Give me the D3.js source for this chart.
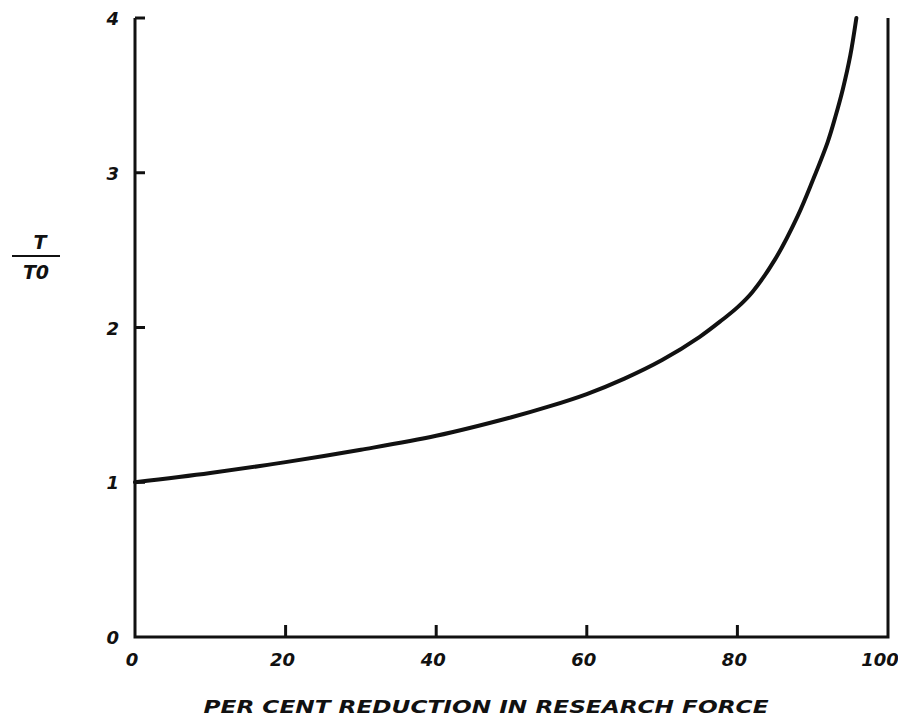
<!DOCTYPE html>
<head>
<meta charset="utf-8">
<script src="https://d3js.org/d3.v7.min.js"></script>
</head>
<style>
  body { margin: 0; background: #fff; }
  text { font-family: "DejaVu Sans", sans-serif; font-style: italic; font-weight: bold; fill: #111; }
</style>
<body>
<svg id="chart" width="898" height="724"></svg>
<script>
// values
const reduction = [0, 10, 20, 30, 40, 50, 55, 60, 65, 70, 75, 78, 80, 82, 85, 88, 90, 92, 93, 94, 95, 95.8];
const ratio     = [1.0, 1.06, 1.13, 1.21, 1.30, 1.42, 1.49, 1.57, 1.67, 1.79, 1.94, 2.05, 2.13, 2.23, 2.44, 2.72, 2.95, 3.20, 3.36, 3.54, 3.76, 4.0];
const xTicks = [0, 20, 40, 60, 80, 100];
const yTicks = [0, 1, 2, 3, 4];
const xLabel = "PER CENT  REDUCTION IN RESEARCH FORCE";

const svg = d3.select("#chart");

const x = d3.scaleLinear().domain([0, 100]).range([135, 888]);
const y = d3.scaleLinear().domain([0, 4]).range([637, 18]);

// frame: left, bottom, right
svg.append("path")
  .attr("d", `M${x(0)},${y(4)}V${y(0)}H${x(100)}V${y(4)}`)
  .attr("fill", "none")
  .attr("stroke", "#111")
  .attr("stroke-width", 3);

// y ticks (inward) and labels
svg.selectAll(".ytick")
  .data(yTicks.filter(d => d > 0))
  .join("line")
    .attr("x1", x(0)).attr("x2", x(0) + 10)
    .attr("y1", d => y(d)).attr("y2", d => y(d))
    .attr("stroke", "#111").attr("stroke-width", 3);

svg.selectAll(".ylab")
  .data(yTicks)
  .join("text")
    .attr("x", x(0) - 16)
    .attr("y", d => y(d) + 7)
    .attr("text-anchor", "end")
    .style("font-size", "18px")
    .text(d => d);

// x ticks (inward) and labels
svg.selectAll(".xtick")
  .data(xTicks.filter(d => d > 0 && d < 100))
  .join("line")
    .attr("x1", d => x(d)).attr("x2", d => x(d))
    .attr("y1", y(0)).attr("y2", y(0) - 12)
    .attr("stroke", "#111").attr("stroke-width", 3);

svg.selectAll(".xlab")
  .data(xTicks)
  .join("text")
    .attr("x", d => x(d) - (d === 100 ? 8 : 3))
    .attr("y", y(0) + 29)
    .attr("text-anchor", "middle")
    .style("font-size", "18px")
    .text(d => d);

// curve
const line = d3.line()
  .x(d => x(d[0]))
  .y(d => y(d[1]))
  .curve(d3.curveCatmullRom.alpha(0.5));

svg.append("path")
  .datum(d3.zip(reduction, ratio))
  .attr("d", line)
  .attr("fill", "none")
  .attr("stroke", "#111")
  .attr("stroke-width", 4)
  .attr("stroke-linecap", "round");

// y axis label T / T0
const yl = svg.append("g").attr("transform", "translate(38,256)");
yl.append("text").attr("x", 2).attr("y", -7).attr("text-anchor", "middle")
  .style("font-size", "19px").text("T");
yl.append("line").attr("x1", -26).attr("x2", 22).attr("y1", 0).attr("y2", 0)
  .attr("stroke", "#111").attr("stroke-width", 2);
yl.append("text").attr("x", -2).attr("y", 23).attr("text-anchor", "middle")
  .style("font-size", "19px").text("T0");

// x axis label
svg.append("text")
  .attr("x", 486)
  .attr("y", 713)
  .attr("text-anchor", "middle")
  .attr("textLength", 565)
  .attr("lengthAdjust", "spacingAndGlyphs")
  .style("font-size", "17px")
  .text(xLabel);
</script>
</body>
